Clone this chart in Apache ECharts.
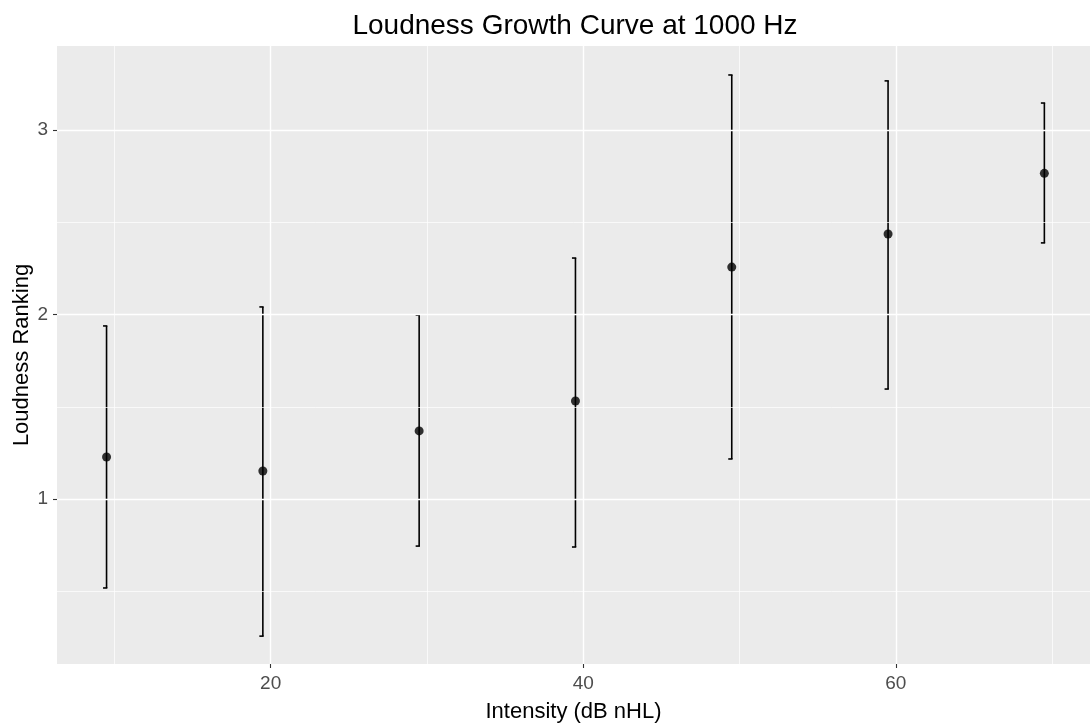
<!DOCTYPE html>
<html>
<head>
<meta charset="utf-8">
<script src="https://cdn.jsdelivr.net/npm/echarts@6/dist/echarts.min.js"></script>
<style>html,body{margin:0;padding:0;background:#fff}#c{width:1090px;height:726px}</style>
</head>
<body>
<div id="c"></div>
<script>
const intensity = [9.5, 19.5, 29.5, 39.5, 49.5, 59.5, 69.5];
const meanRank  = [1.228, 1.152, 1.369, 1.531, 2.257, 2.436, 2.765];
const lowerRank = [0.518, 0.257, 0.745, 0.740, 1.217, 1.596, 2.388];
const upperRank = [1.938, 2.041, 1.997, 2.306, 3.298, 3.266, 3.146];
const xMajor = [20, 40, 60];
const xMinor = [10, 30, 50, 70];
const yMajor = [1, 2, 3];
const yMinor = [0.5, 1.5, 2.5];

const FONT = '"Liberation Sans", Arial, sans-serif';
const chart = echarts.init(document.getElementById('c'), null, {renderer: 'canvas'});

const errData = intensity.map((x, i) => [x, lowerRank[i], upperRank[i]]);
const ptData = intensity.map((x, i) => [x, meanRank[i]]);

function gridLines(vals, key, w) {
  return vals.map(v => ({[key]: v, lineStyle: {color: '#ffffff', width: w, type: 'solid'}}));
}

chart.setOption({
  animation: false,
  backgroundColor: '#ffffff',
  title: {
    text: 'Loudness Growth Curve at 1000 Hz',
    left: 575, top: 12, textAlign: 'center', padding: 0,
    textStyle: {fontFamily: FONT, fontSize: 28, fontWeight: 'normal', color: '#000'}
  },
  grid: {
    left: 57, right: 0, top: 46, bottom: 62,
    containLabel: false, outerBoundsMode: 'none',
    show: true, backgroundColor: '#EBEBEB', borderWidth: 0
  },
  xAxis: {
    type: 'value', min: 6.33, max: 72.42,
    name: 'Intensity (dB nHL)', nameLocation: 'middle', nameGap: 37, nameMoveOverlap: false,
    nameTextStyle: {fontFamily: FONT, fontSize: 22, color: '#000'},
    axisLine: {show: false},
    axisTick: {show: true, customValues: xMajor, length: 4, lineStyle: {color: '#333', width: 1.1}},
    axisLabel: {customValues: xMajor, margin: 10, fontFamily: FONT, fontSize: 19, color: '#4D4D4D'},
    splitLine: {show: false}
  },
  yAxis: {
    type: 'value', min: 0.106, max: 3.455,
    name: 'Loudness Ranking', nameLocation: 'middle', nameGap: 24, nameMoveOverlap: false,
    nameTextStyle: {fontFamily: FONT, fontSize: 22, color: '#000'},
    axisLine: {show: false},
    axisTick: {show: true, customValues: yMajor, length: 4, lineStyle: {color: '#333', width: 1.1}},
    axisLabel: {customValues: yMajor, margin: 9, fontFamily: FONT, fontSize: 19, color: '#4D4D4D'},
    splitLine: {show: false}
  },
  series: [
    {
      type: 'line', data: [], z: 1, silent: true,
      markLine: {
        silent: true, symbol: 'none', label: {show: false}, animation: false,
        data: gridLines(xMinor, 'xAxis', 0.7).concat(gridLines(yMinor, 'yAxis', 0.7))
      }
    },
    {
      type: 'line', data: [], z: 1, silent: true,
      markLine: {
        silent: true, symbol: 'none', label: {show: false}, animation: false,
        data: gridLines(xMajor, 'xAxis', 1.4).concat(gridLines(yMajor, 'yAxis', 1.4))
      }
    },
    {
      type: 'custom', z: 3, silent: true,
      data: errData,
      renderItem: function (params, api) {
        const lo = api.coord([api.value(0), api.value(1)]);
        const hi = api.coord([api.value(0), api.value(2)]);
        const st = {stroke: '#000', lineWidth: 1.6};
        return {
          type: 'group',
          children: [
            {type: 'line', shape: {x1: lo[0], y1: lo[1], x2: hi[0], y2: hi[1]}, style: st},
            {type: 'line', shape: {x1: hi[0] - 3.5, y1: hi[1], x2: hi[0] + 0.8, y2: hi[1]}, style: st},
            {type: 'line', shape: {x1: lo[0] - 3.5, y1: lo[1], x2: lo[0] + 0.8, y2: lo[1]}, style: st}
          ]
        };
      }
    },
    {
      type: 'scatter', z: 4, silent: true,
      data: ptData, symbol: 'circle', symbolSize: 9,
      itemStyle: {color: '#000'}
    }
  ]
});
</script>
</body>
</html>
